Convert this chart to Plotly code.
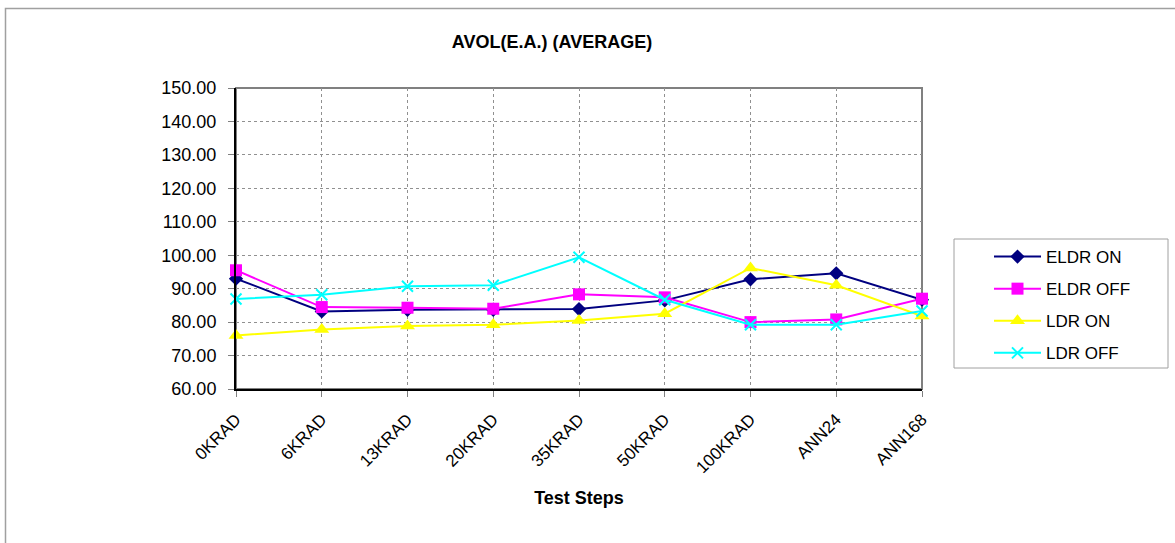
import plotly.graph_objects as go

categories = ["0KRAD", "6KRAD", "13KRAD", "20KRAD", "35KRAD", "50KRAD", "100KRAD", "ANN24", "ANN168"]
eldr_on = [93.0, 83.2, 83.7, 83.7, 83.9, 86.5, 92.8, 94.6, 86.7]
eldr_off = [95.5, 84.5, 84.3, 84.0, 88.3, 87.4, 80.0, 80.8, 87.0]
ldr_on = [76.0, 77.8, 78.8, 79.2, 80.5, 82.5, 96.2, 91.0, 81.8]
ldr_off = [86.9, 88.2, 90.7, 91.0, 99.4, 86.7, 79.2, 79.2, 83.3]
series_names = ["ELDR ON", "ELDR OFF", "LDR ON", "LDR OFF"]
y_ticks = [60, 70, 80, 90, 100, 110, 120, 130, 140, 150]

FONT = "Liberation Sans, Arial, sans-serif"
W, H = 1175, 543
# plot area in page pixels
PL, PR, PT, PB = 236, 922, 88, 389

styles = [
    dict(color="#000080", symbol="diamond", size=11),
    dict(color="#FF00FF", symbol="square", size=12),
    dict(color="#FFFF00", symbol="triangle-up", size=13),
    dict(color="#00FFFF", symbol="x-thin", size=11),
]

fig = go.Figure()
for i, (name, vals) in enumerate(zip(series_names, [eldr_on, eldr_off, ldr_on, ldr_off])):
    st = styles[i]
    fig.add_trace(go.Scatter(
        x=categories, y=vals, name=name, mode="lines+markers",
        line=dict(color=st["color"], width=2),
        marker=dict(color=st["color"], symbol=st["symbol"], size=st["size"],
                    line=dict(color=st["color"], width=2 if st["symbol"] == "x-thin" else 0)),
        cliponaxis=False, legendgroup=name,
    ))

pw, ph = PR - PL, PB - PT
def px_x(p):
    return (p - PL) / pw
def px_y(p):
    return (PB - p) / ph

shapes = [
    # outer chart border (only top/left visible in reference)
    dict(type="rect", xref="paper", yref="paper", x0=px_x(5.5), x1=px_x(1185), y0=px_y(560), y1=px_y(8.5),
         line=dict(color="#A0A0A0", width=1.5), fillcolor="rgba(0,0,0,0)", layer="below"),
    # plot area border
    dict(type="rect", xref="paper", yref="paper", x0=0, x1=1, y0=0, y1=1,
         line=dict(color="#808080", width=2), fillcolor="rgba(0,0,0,0)", layer="below"),
    # legend box
    dict(type="rect", xref="paper", yref="paper", x0=px_x(954), x1=px_x(1168), y0=px_y(368), y1=px_y(239),
         line=dict(color="#A0A0A0", width=1), fillcolor="rgba(0,0,0,0)", layer="below"),
]

fig.update_layout(
    width=W, height=H, autosize=False,
    margin=dict(l=PL, r=W - PR, t=PT, b=H - PB, pad=0),
    paper_bgcolor="white", plot_bgcolor="white",
    font=dict(family=FONT, size=17, color="black"),
    title=dict(text="<b>AVOL(E.A.) (AVERAGE)</b>", x=552 / W, xref="container", xanchor="center",
               y=1 - 42 / H, yref="container", yanchor="middle",
               font=dict(family=FONT, size=18, color="black")),
    showlegend=True,
    legend=dict(x=px_x(989), y=px_y(239), xanchor="left", yanchor="top", xref="paper", yref="paper",
                bgcolor="rgba(0,0,0,0)", borderwidth=0, font=dict(family=FONT, size=17),
                tracegroupgap=7, traceorder="grouped", itemwidth=47),
    shapes=shapes,
)

fig.update_xaxes(
    type="category", categoryorder="array", categoryarray=categories,
    range=[0, len(categories) - 1], showline=True, linecolor="black", linewidth=2,
    showgrid=True, gridcolor="#909090", griddash="dot", gridwidth=1,
    ticks="outside", ticklen=6, tickcolor="#808080", tickwidth=1,
    tickangle=-45, tickfont=dict(family=FONT, size=17), ticklabelstandoff=6,
    title=dict(text="<b>Test Steps</b>", font=dict(family=FONT, size=18), standoff=15),
    zeroline=False,
)
fig.update_yaxes(
    range=[60, 150], tickvals=y_ticks, tickformat=".2f",
    showline=True, linecolor="black", linewidth=2,
    showgrid=True, gridcolor="#909090", griddash="dot", gridwidth=1,
    ticks="outside", ticklen=6, tickcolor="#808080", tickwidth=1,
    tickfont=dict(family=FONT, size=18), ticklabelstandoff=8,
    zeroline=False,
)

fig.write_html("out.html", config={"displayModeBar": False},
               post_script="document.body.style.margin='0';document.body.style.overflow='hidden';")
